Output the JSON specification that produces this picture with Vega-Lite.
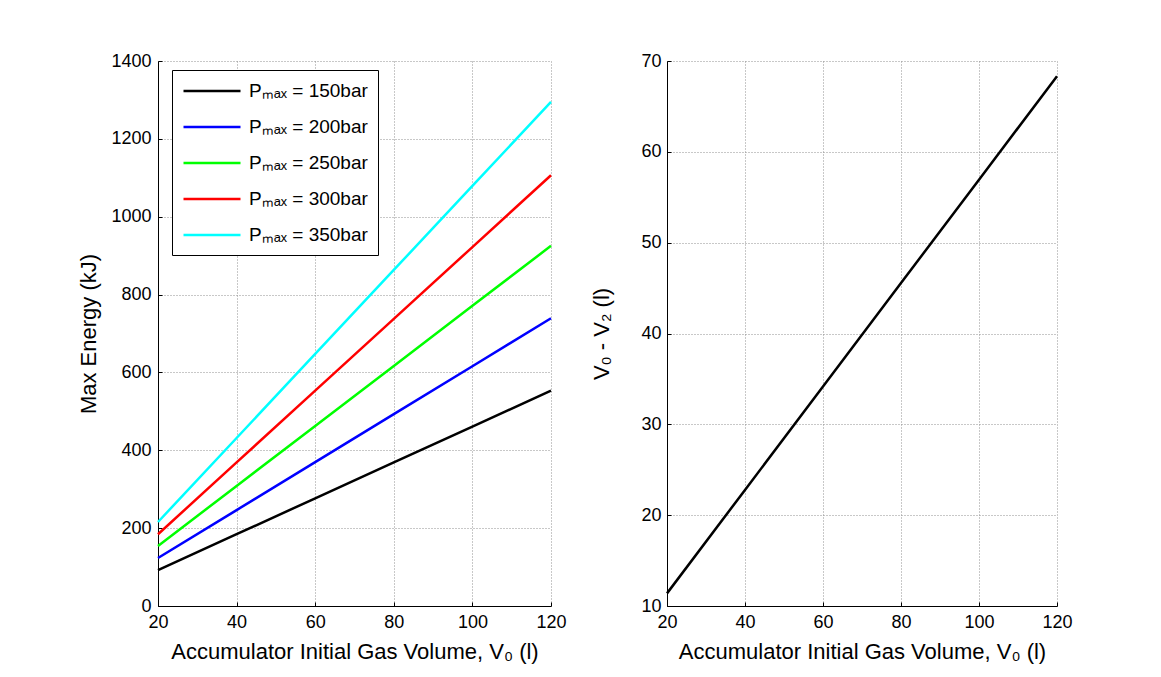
{
  "$schema": "https://vega.github.io/schema/vega-lite/v6.json",
  "padding": {"left": 77, "top": 52, "right": 5, "bottom": 5},
  "background": "white",
  "config": {
    "font": "Liberation Sans",
    "view": {"stroke": null},
    "axis": {
      "domainColor": "black",
      "domainWidth": 1,
      "tickColor": "black",
      "tickSize": -4,
      "labelFontSize": 18,
      "labelColor": "black",
      "titleFontSize": 22,
      "titleFontWeight": "normal",
      "titleColor": "black",
      "gridColor": "#909090",
      "gridDash": [1, 2],
      "gridWidth": 1,
      "gridOpacity": 1,
      "labelFlush": false,
      "format": "d"
    }
  },
  "spacing": 23,
  "hconcat": [
    {
      "width": 393,
      "height": 545,
      "data": {"values": [
        {"V0": 20, "E": 92.2, "series": "Pₘₐₓ = 150bar"},
        {"V0": 40, "E": 184.4, "series": "Pₘₐₓ = 150bar"},
        {"V0": 60, "E": 276.6, "series": "Pₘₐₓ = 150bar"},
        {"V0": 80, "E": 368.8, "series": "Pₘₐₓ = 150bar"},
        {"V0": 100, "E": 461.0, "series": "Pₘₐₓ = 150bar"},
        {"V0": 120, "E": 553.2, "series": "Pₘₐₓ = 150bar"},
        {"V0": 20, "E": 123.2, "series": "Pₘₐₓ = 200bar"},
        {"V0": 40, "E": 246.4, "series": "Pₘₐₓ = 200bar"},
        {"V0": 60, "E": 369.6, "series": "Pₘₐₓ = 200bar"},
        {"V0": 80, "E": 492.8, "series": "Pₘₐₓ = 200bar"},
        {"V0": 100, "E": 616.0, "series": "Pₘₐₓ = 200bar"},
        {"V0": 120, "E": 739.2, "series": "Pₘₐₓ = 200bar"},
        {"V0": 20, "E": 154.2, "series": "Pₘₐₓ = 250bar"},
        {"V0": 40, "E": 308.4, "series": "Pₘₐₓ = 250bar"},
        {"V0": 60, "E": 462.6, "series": "Pₘₐₓ = 250bar"},
        {"V0": 80, "E": 616.8, "series": "Pₘₐₓ = 250bar"},
        {"V0": 100, "E": 771.0, "series": "Pₘₐₓ = 250bar"},
        {"V0": 120, "E": 925.2, "series": "Pₘₐₓ = 250bar"},
        {"V0": 20, "E": 184.4, "series": "Pₘₐₓ = 300bar"},
        {"V0": 40, "E": 368.8, "series": "Pₘₐₓ = 300bar"},
        {"V0": 60, "E": 553.2, "series": "Pₘₐₓ = 300bar"},
        {"V0": 80, "E": 737.6, "series": "Pₘₐₓ = 300bar"},
        {"V0": 100, "E": 922.0, "series": "Pₘₐₓ = 300bar"},
        {"V0": 120, "E": 1106.4, "series": "Pₘₐₓ = 300bar"},
        {"V0": 20, "E": 215.8, "series": "Pₘₐₓ = 350bar"},
        {"V0": 40, "E": 431.6, "series": "Pₘₐₓ = 350bar"},
        {"V0": 60, "E": 647.4, "series": "Pₘₐₓ = 350bar"},
        {"V0": 80, "E": 863.2, "series": "Pₘₐₓ = 350bar"},
        {"V0": 100, "E": 1079.0, "series": "Pₘₐₓ = 350bar"},
        {"V0": 120, "E": 1294.8, "series": "Pₘₐₓ = 350bar"}
      ]},
      "mark": {"type": "line", "strokeWidth": 2.5},
      "encoding": {
        "x": {"field": "V0", "type": "quantitative",
              "scale": {"domain": [20, 120], "nice": false, "zero": false},
              "axis": {"values": [20, 40, 60, 80, 100, 120], "title": "Accumulator Initial Gas Volume, V₀ (l)", "titlePadding": 10, "labelPadding": 11}},
        "y": {"field": "E", "type": "quantitative",
              "scale": {"domain": [0, 1400], "nice": false},
              "axis": {"values": [0, 200, 400, 600, 800, 1000, 1200, 1400], "title": "Max Energy (kJ)", "titlePadding": 10, "labelPadding": 11}},
        "color": {"field": "series", "type": "nominal",
                  "scale": {"range": ["#000000", "#0000ff", "#00ff00", "#ff0000", "#00ffff"]},
                  "legend": {
                    "title": null,
                    "orient": "none",
                    "legendX": 14,
                    "legendY": 9,
                    "symbolType": "M-1,0H5",
                    "symbolSize": 361,
                    "symbolStrokeWidth": 2.5,
                    "symbolFillColor": "transparent",
                    "labelFontSize": 19,
                    "labelColor": "black",
                    "labelOffset": 45,
                    "strokeColor": "black",
                    "fillColor": "white",
                    "padding": 10,
                    "rowPadding": 15
                  }}
      }
    },
    {
      "width": 390,
      "height": 545,
      "data": {"values": [
        {"V0": 20, "dV": 11.39},
        {"V0": 40, "dV": 22.78},
        {"V0": 60, "dV": 34.16},
        {"V0": 80, "dV": 45.55},
        {"V0": 100, "dV": 56.94},
        {"V0": 120, "dV": 68.33}
      ]},
      "mark": {"type": "line", "strokeWidth": 2.5, "color": "black"},
      "encoding": {
        "x": {"field": "V0", "type": "quantitative",
              "scale": {"domain": [20, 120], "nice": false, "zero": false},
              "axis": {"values": [20, 40, 60, 80, 100, 120], "title": "Accumulator Initial Gas Volume, V₀ (l)", "titlePadding": 10, "labelPadding": 11}},
        "y": {"field": "dV", "type": "quantitative",
              "scale": {"domain": [10, 70], "nice": false, "zero": false},
              "axis": {"values": [10, 20, 30, 40, 50, 60, 70], "title": "V₀ - V₂ (l)", "titlePadding": 27, "labelPadding": 10}}
      }
    }
  ]
}
